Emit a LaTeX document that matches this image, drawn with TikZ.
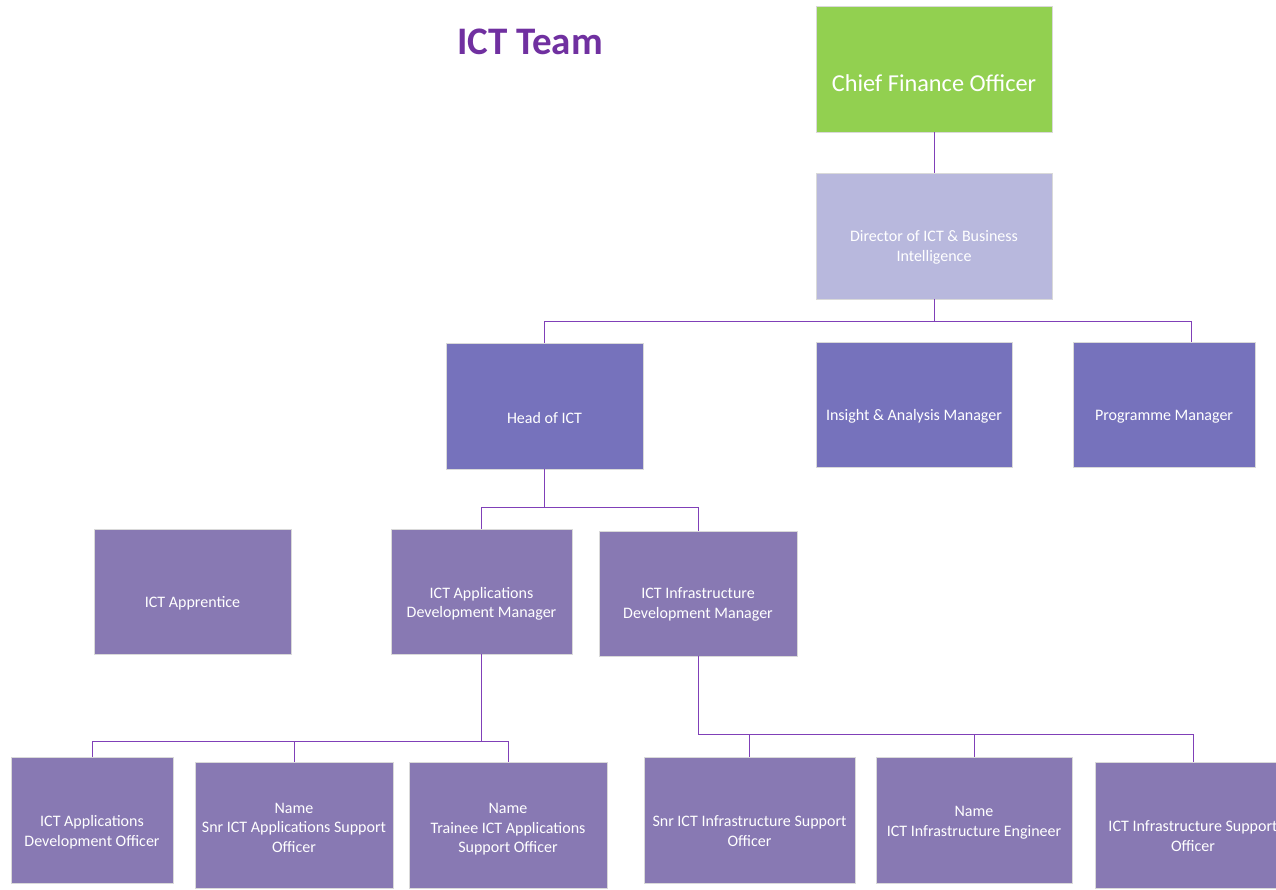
\documentclass[tikz,border=0pt]{standalone}
\usepackage{fontspec}
\setmainfont{Carlito}
\usepackage{xcolor}
\usepackage{tikz}
\usetikzlibrary{positioning}

\definecolor{cfogreen}{HTML}{92D050}
\definecolor{dirlilac}{HTML}{B8B8DD}
\definecolor{mgrblue}{HTML}{7672BC}
\definecolor{staffpurple}{HTML}{8879B3}
\definecolor{linkpurple}{HTML}{8040B8}
\definecolor{titlepurple}{HTML}{7030A0}

\begin{document}
\begin{tikzpicture}[x=1pt,y=-1pt,thick]
  \tikzstyle{post}=[rectangle,draw=black!15,line width=0.8pt,text=white,align=center,
    font=\fontsize{16}{19.5}\selectfont,minimum width=197,minimum height=126,inner sep=2pt]
  \tikzstyle{mgr}=[post,fill=mgrblue]
  \tikzstyle{staff}=[post,fill=staffpurple]
  \tikzstyle{link}=[draw=linkpurple,line width=1pt]
  \tikzset{lower/.style={execute at begin node={\rule{0pt}{#1}}}, lower/.default=35pt}

  \useasboundingbox (0,0) rectangle (1276,890);

  \node[text=titlepurple,font=\fontsize{39}{42}\selectfont\bfseries] (title) at (530,42) {ICT Team};

  % top of the chart
  \node[post,fill=cfogreen,minimum width=236,font=\fontsize{24.3}{28}\selectfont,lower=45pt] (cfo) at (934,69) {Chief Finance Officer};
  \node[post,fill=dirlilac,minimum width=236,lower=53.5pt] (dir) at (934,236) {Director of ICT \& Business\\Intelligence};

  % managers
  \node[mgr,lower] (head) at (544.5,406) {Head of ICT};
  \node[mgr,lower,minimum width=196,minimum height=125] (insight) at (914,404.5) {Insight \& Analysis Manager};
  \node[mgr,lower,minimum width=182,minimum height=125] (prog) at (1164,404.5) {Programme Manager};

  % second row
  \node[staff,lower,minimum height=125] (appr) at (192.5,591.5) {ICT Apprentice};
  \node[staff,lower=55pt,minimum width=181,minimum height=125] (appmgr) at (481.5,591.5) {ICT Applications\\Development Manager};
  \node[staff,lower=52.5pt,minimum width=198,minimum height=125] (infmgr) at (698,593.5) {ICT Infrastructure\\Development Manager};

  % bottom row
  \node[staff,lower=55pt,minimum width=162] (devoff) at (92,820) {ICT Applications\\Development Officer};
  \node[staff,lower=55pt,minimum width=198] (snrapp) at (294,825) {Name\\Snr ICT Applications Support\\Officer};
  \node[staff,lower=58pt,minimum width=198] (trainee) at (508,825) {Name\\Trainee ICT Applications\\Support Officer};
  \node[staff,lower=52.5pt,minimum width=211] (snrinf) at (749.5,820) {Snr ICT Infrastructure Support\\Officer};
  \node[staff,lower=35.5pt,minimum width=196] (eng) at (974,820) {Name\\ICT Infrastructure Engineer};
  \node[staff,lower=52.5pt,minimum width=196] (infsup) at (1193,825) {ICT Infrastructure Support\\Officer};

  \coordinate (progtop) at ([xshift=27]prog.north);

  % reporting lines
  \draw[link] (cfo) -- (dir);
  \draw[link] (dir.south) -- ++(0,22) -| (head.north);
  \draw[link] (dir.south) -- ++(0,22) -| (progtop);
  \draw[link] (head.south) -- ++(0,38) -| (appmgr.north);
  \draw[link] (head.south) -- ++(0,38) -| (infmgr.north);
  \foreach \n in {devoff,snrapp,trainee}
    \draw[link] (appmgr.south) -- ++(0,87) -| (\n.north);
  \foreach \n in {snrinf,eng,infsup}
    \draw[link] (infmgr.south) -- ++(0,78) -| (\n.north);
\end{tikzpicture}
\end{document}
